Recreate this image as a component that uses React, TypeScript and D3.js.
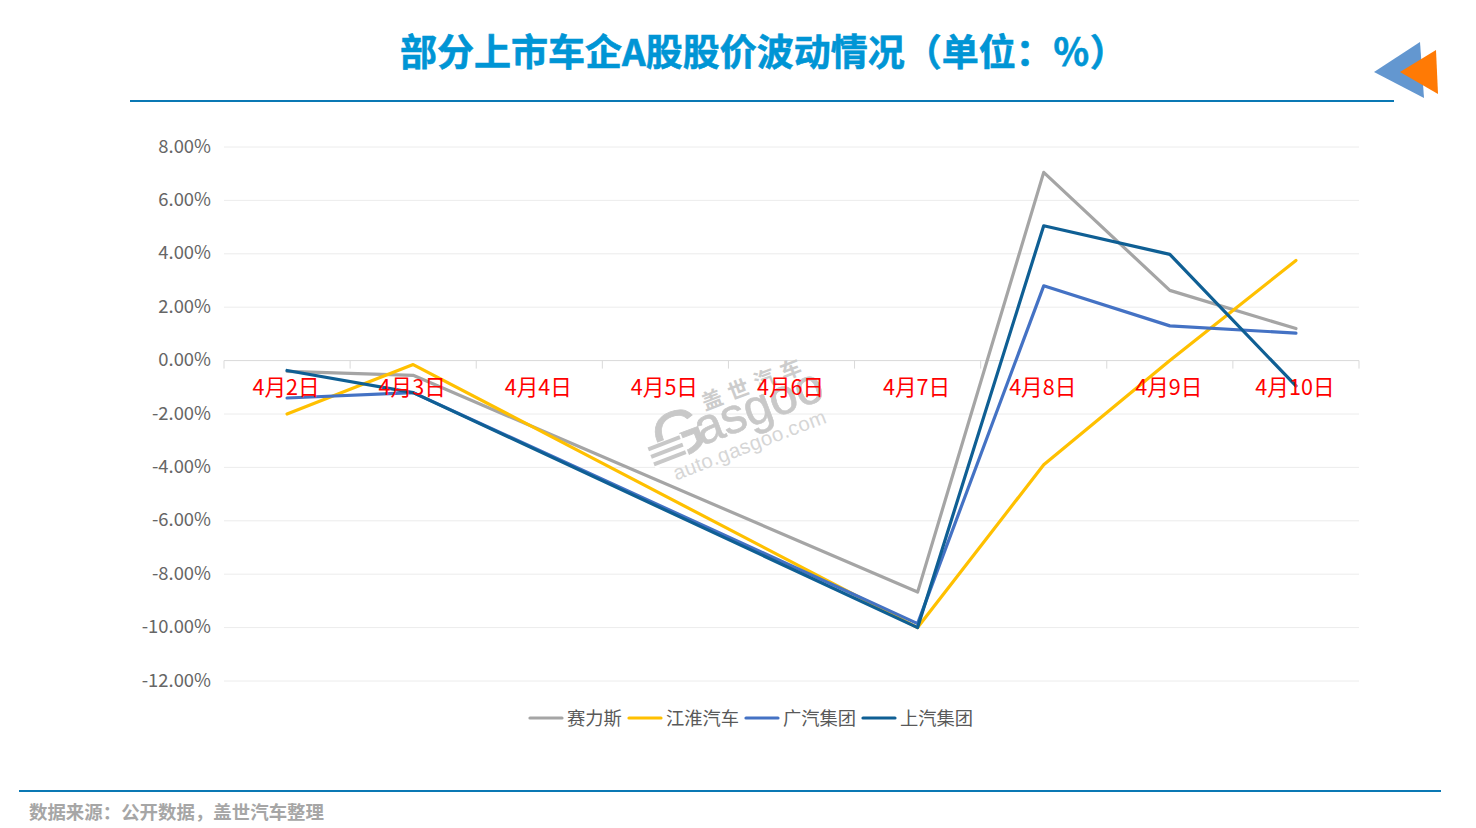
import React from "react";
import { scaleBand, scaleLinear, line as d3_line } from "d3";

const days = ["4月2日", "4月3日", "4月4日", "4月5日", "4月6日", "4月7日", "4月8日", "4月9日", "4月10日"];
const ticks = [8, 6, 4, 2, 0, -2, -4, -6, -8, -10, -12];

// 4/4-4/6 were market holidays, the lines just run across them
const seres = [-0.4, -0.55, null, null, null, -8.67, 7.05, 2.63, 1.2];
const jac = [-2.0, -0.15, null, null, null, -10.0, -3.9, 0.0, 3.75];
const gac = [-1.4, -1.2, null, null, null, -9.85, 2.8, 1.3, 1.03];
const saic = [-0.37, -1.2, null, null, null, -10.0, 5.05, 3.98, -0.95];

const seriesNames = ["赛力斯", "江淮汽车", "广汽集团", "上汽集团"];
const seriesValues = [seres, jac, gac, saic];
const seriesColors = ["#a5a5a5", "#ffc000", "#4472c4", "#0f5f94"];
const legendOffsets = [530, 629, 746, 863];

const FONT = '"Noto Sans CJK SC", "Noto Sans", sans-serif';

const x = scaleBand<string>().domain(days).range([224, 1359]);
const y = scaleLinear().domain([-12, 8]).range([681, 147]);

const cx = (i: number) => (x(days[i]) ?? 0) + x.bandwidth() / 2;

export default function App() {
    return (
        <svg
            width={1476}
            height={828}
            style={{ position: "absolute", left: 0, top: 0, background: "#fff" }}
            fontFamily={FONT}
        >
            {/* Title */}
            <text
                x={400}
                y={66}
                fontSize={37}
                fontWeight={700}
                fill="#0095d5"
                stroke="#0095d5"
                strokeWidth={0.6}
                style={{ textSpacingTrim: "space-all" } as React.CSSProperties}
            >
                部分上市车企A股股价波动情况（单位：％）
            </text>
            <line x1={130} x2={1394} y1={101} y2={101} stroke="#0a78b4" strokeWidth={2} />
            <polygon points="1374,72 1420,42 1424,98" fill="#6397d0" />
            <polygon points="1400,72 1436,50 1438,94" fill="#ff7a05" />

            {/* Grid */}
            {ticks.map((t) => (
                <g key={t}>
                    <line
                        x1={224}
                        x2={1359}
                        y1={y(t)}
                        y2={y(t)}
                        stroke={t === 0 ? "#d9d9d9" : "#ececec"}
                        strokeWidth={1}
                    />
                    <text x={211} y={y(t) + 5.5} textAnchor="end" fontSize={18.4} fill="#666666">
                        {`${t.toFixed(2)}%`}
                    </text>
                </g>
            ))}

            {/* Ticks on the zero line */}
            {[...days.map((d) => x(d) ?? 0), 1359].map((px, i) => (
                <line key={i} x1={px} x2={px} y1={y(0)} y2={y(0) + 8} stroke="#d9d9d9" />
            ))}

            {/* Watermark */}
            <g transform="translate(657,461) rotate(-21)" fill="#c8c8c8">
                <text x={4} y={5} fontSize={66} fontFamily="Liberation Sans" stroke="#c8c8c8" strokeWidth={0.8}>
                    G
                </text>
                <rect x={-4} y={-17} width={36} height={24} fill="#fff" />
                <rect x={-4} y={-16} width={34} height={4} />
                <rect x={-4} y={-8} width={34} height={4} />
                <rect x={-4} y={0} width={34} height={4} />
                <text x={47} y={2} fontSize={50} fontFamily="Liberation Sans" letterSpacing={-0.5} stroke="#c8c8c8" strokeWidth={0.6}>
                    asgoo
                </text>
                <text x={63} y={-30} fontSize={21} fontWeight={700} letterSpacing={7} fill="#cccccc">
                    盖世汽车
                </text>
                <text x={11} y={25} fontSize={20.4} fontFamily="Liberation Sans" fill="#d6d6d6" letterSpacing={0.4}>
                    auto.gasgoo.com
                </text>
            </g>

            {/* Series */}
            {seriesValues.map((values, s) => {
                const pts = values
                    .map((v, i) => ({ v, i }))
                    .filter((d) => d.v !== null) as { v: number; i: number }[];
                const line = d3_line<{ v: number; i: number }>()
                    .x((d) => cx(d.i))
                    .y((d) => y(d.v));
                return (
                    <path
                        key={seriesNames[s]}
                        d={line(pts) ?? ""}
                        fill="none"
                        stroke={seriesColors[s]}
                        strokeWidth={3.2}
                        strokeLinejoin="round"
                        strokeLinecap="round"
                    />
                );
            })}

            {/* Category labels sit on top of the lines */}
            {days.map((d, i) => (
                <text key={d} x={cx(i) - 1} y={395} textAnchor="middle" fontSize={21.6} fill="#ff0000">
                    {d}
                </text>
            ))}

            {/* Legend */}
            {seriesNames.map((name, s) => (
                <g key={name}>
                    <line
                        x1={legendOffsets[s]}
                        x2={legendOffsets[s] + 32}
                        y1={718}
                        y2={718}
                        stroke={seriesColors[s]}
                        strokeWidth={3.2}
                        strokeLinecap="round"
                    />
                    <text x={legendOffsets[s] + 37} y={725} fontSize={18.3} fill="#595959">
                        {name}
                    </text>
                </g>
            ))}

            {/* Footer */}
            <line x1={19} x2={1441} y1={791} y2={791} stroke="#0a78b4" strokeWidth={2} />
            <text
                x={29}
                y={819}
                fontSize={18.45}
                fontWeight={700}
                fill="#a6a6a6"
                style={{ textSpacingTrim: "space-all" } as React.CSSProperties}
            >
                数据来源：公开数据，盖世汽车整理
            </text>
        </svg>
    );
}
